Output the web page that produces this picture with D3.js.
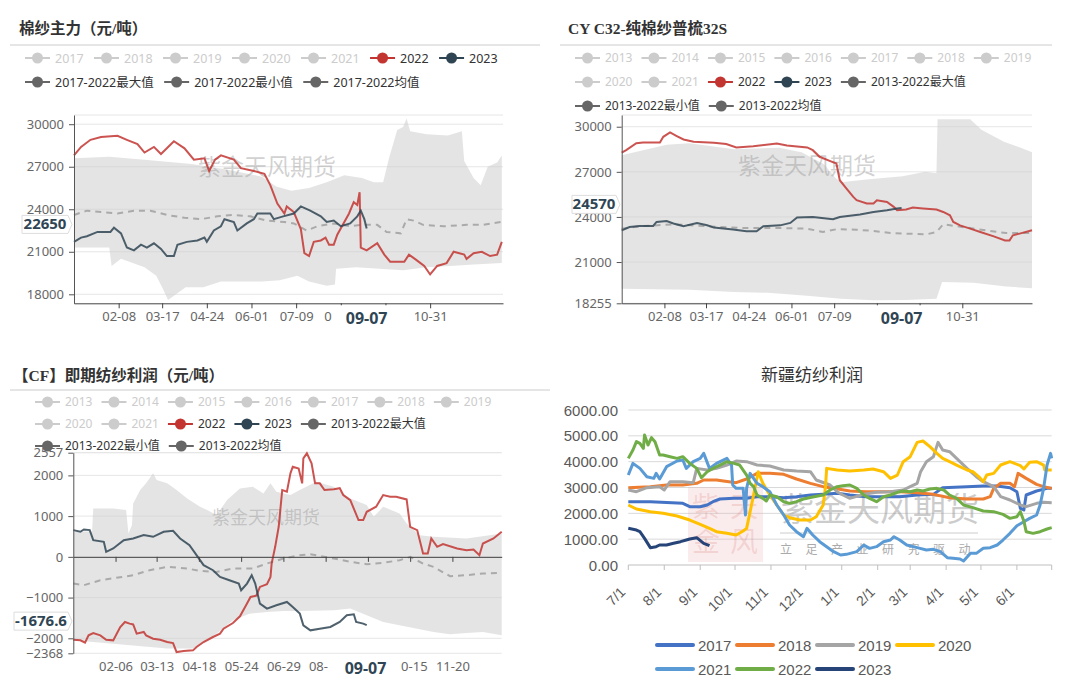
<!DOCTYPE html>
<html>
<head>
<meta charset="utf-8">
<script src="https://cdn.jsdelivr.net/npm/d3@7/dist/d3.min.js"></script>
<style>
  body { margin: 0; background: #fff; }
  svg { display: block; font-family: "Noto Sans", "Noto Sans CJK SC", sans-serif; }
</style>
</head>
<body>
<svg id="chart" width="1080" height="696"></svg>
<script>
// ---- data: [day of year, value] ----

// 棉纱主力
const yarn2022 = [[0,27800],[6,28400],[14,28900],[23,29100],[37,29180],[45,28900],[54,28600],[60,28000],[68,28400],[74,27900],[79,28300],[85,28800],[94,28300],[102,27500],[111,27600],[115,26700],[120,27500],[125,27800],[136,27500],[142,26900],[153,26700],[162,26500],[167,25700],[173,24400],[179,23700],[181,24200],[187,23800],[193,22600],[196,20900],[200,20700],[204,21700],[210,21800],[214,22000],[217,21500],[221,21500],[224,22200],[228,22800],[234,23700],[238,24500],[241,24300],[243,25200],[244,21300],[249,21100],[258,21600],[264,20800],[269,20300],[281,20300],[285,20800],[290,20500],[298,20000],[303,19400],[309,20000],[317,20200],[323,21000],[332,20800],[334,20500],[340,20900],[347,21000],[354,20700],[360,20800],[364,21700]];
const yarn2023 = [[0,21700],[6,22000],[11,22100],[20,22400],[31,22400],[34,22700],[40,22300],[45,21300],[51,21100],[57,21500],[62,21300],[68,21600],[74,21200],[79,20700],[85,20700],[88,21500],[96,21700],[105,21800],[111,22000],[113,21700],[119,22500],[125,22800],[128,23300],[136,23100],[139,22500],[147,23000],[153,23300],[156,23700],[167,23700],[170,23300],[178,23500],[187,23700],[193,24200],[201,23900],[210,23500],[215,23100],[221,23200],[227,22800],[235,23000],[241,23500],[244,23900],[247,23300],[249,22650]];
const yarnMean = [[0,23600],[11,23900],[23,23800],[37,23700],[51,23900],[65,23900],[79,23600],[94,23400],[108,23300],[122,23500],[136,23600],[150,23500],[164,23200],[179,23100],[187,23000],[198,22500],[207,22800],[221,23000],[235,22800],[244,22900],[258,22900],[266,22400],[278,22300],[283,23300],[289,23200],[297,22900],[315,22800],[334,22900],[348,22900],[363,23100]];
const yarnMax = [[0,27600],[30,27700],[60,27500],[100,27200],[130,26800],[160,26300],[172,25600],[185,25300],[200,25500],[215,25900],[230,26400],[245,26200],[255,25900],[263,25900],[268,27600],[275,29600],[280,29800],[283,30400],[286,29500],[300,29300],[318,29200],[330,29500],[332,27400],[340,26200],[346,25700],[352,27000],[360,27300],[364,27800]];
const yarnMin = [[0,21300],[30,21300],[32,20000],[40,20500],[60,19900],[70,19300],[75,18500],[80,17600],[85,17900],[95,18500],[110,18500],[125,18900],[140,18900],[160,18900],[175,19000],[190,19300],[200,18900],[215,18600],[222,18700],[223,19800],[240,19900],[260,19800],[280,19700],[300,19900],[320,20000],[340,20100],[364,20200]];

// CY C32
const cy2022 = [[0,28270],[4,28440],[13,28900],[19,28950],[34,28950],[37,29330],[43,29620],[49,29380],[55,29150],[64,29000],[82,28930],[93,28850],[102,28620],[117,28700],[138,28890],[147,28750],[165,28620],[170,28440],[176,28000],[185,27730],[191,27550],[194,26440],[200,25890],[206,25330],[209,25110],[218,24890],[224,24890],[227,25110],[236,25000],[242,24670],[245,24440],[253,24490],[259,24620],[268,24560],[280,24490],[286,24330],[292,24110],[295,23670],[301,23440],[310,23220],[319,23000],[331,22710],[341,22440],[345,22440],[348,22780],[354,22890],[365,23110]];
const cy2023 = [[0,23110],[7,23330],[16,23400],[28,23400],[31,23670],[40,23730],[46,23560],[55,23380],[67,23600],[76,23450],[82,23290],[99,23160],[111,23040],[120,23040],[126,23380],[141,23440],[150,23600],[156,23960],[170,24000],[188,23850],[194,24000],[212,24160],[224,24330],[236,24440],[245,24560],[249,24600]];
const cyMean = [[0,23220],[16,23380],[46,23510],[76,23380],[105,23270],[135,23270],[165,23220],[179,23000],[191,23180],[209,23150],[224,23070],[239,22930],[253,22890],[271,22840],[280,23000],[286,23510],[292,23440],[307,23290],[327,23070],[342,22930],[365,22930]];
const cyMax = [[0,28100],[40,28800],[60,28900],[100,28500],[140,28600],[160,28300],[180,27500],[190,26600],[195,26300],[220,26500],[250,26700],[270,27000],[280,26900],[281,30500],[310,30500],[320,29800],[340,29000],[355,28600],[365,28300]];
const cyMin = [[0,19220],[60,19150],[100,19000],[130,18950],[165,18750],[195,18560],[224,18450],[253,18480],[280,18560],[285,19670],[313,19620],[342,19380],[365,19250]];

// 【CF】即期纺纱利润
const cf2022 = [[0,-2034],[6,-2050],[10,-2107],[13,-1927],[17,-1870],[23,-1927],[28,-2034],[34,-2050],[37,-1886],[40,-1722],[44,-1600],[48,-1640],[51,-1660],[54,-1886],[60,-1845],[62,-1927],[68,-2009],[74,-2034],[80,-2091],[85,-2116],[88,-2337],[94,-2313],[102,-2296],[105,-2214],[111,-2091],[119,-1968],[125,-1886],[128,-1763],[136,-1624],[142,-1460],[148,-1148],[151,-984],[156,-951],[159,-738],[165,-672],[168,-492],[169,-164],[172,246],[175,738],[178,1640],[182,1599],[185,2050],[187,2214],[192,2170],[195,1804],[196,2419],[199,2542],[203,2296],[206,1804],[210,1804],[214,1640],[222,1660],[227,1685],[230,1517],[236,1394],[243,902],[247,902],[250,1107],[258,1230],[264,1517],[270,1476],[275,1476],[284,1410],[287,738],[293,656],[298,82],[302,82],[305,451],[310,246],[315,312],[327,205],[335,164],[341,180],[346,41],[349,328],[358,451],[365,615]];
const cf2023 = [[0,656],[6,615],[9,672],[14,656],[17,410],[26,369],[28,123],[34,205],[43,410],[51,451],[60,533],[68,492],[77,615],[85,640],[91,451],[99,287],[105,41],[111,-205],[119,-328],[125,-492],[133,-574],[141,-656],[143,-820],[148,-656],[152,-451],[155,-656],[159,-1148],[165,-1271],[173,-1189],[182,-1107],[187,-1230],[193,-1394],[196,-1681],[202,-1804],[210,-1763],[219,-1722],[227,-1599],[233,-1435],[239,-1410],[241,-1599],[247,-1640],[250,-1677]];
const cfMean = [[0,-656],[9,-697],[23,-574],[51,-451],[65,-328],[80,-246],[97,-287],[108,-344],[122,-369],[136,-287],[153,-287],[165,-164],[179,-41],[193,41],[202,66],[222,-41],[236,-123],[250,-180],[264,-148],[278,-82],[287,0],[298,-164],[307,-246],[321,-476],[335,-451],[349,-410],[365,-394]];
const cfMax = [[0,620],[16,620],[17,1189],[34,1189],[45,1148],[47,574],[50,780],[51,1312],[57,1640],[62,1804],[68,2050],[71,1886],[80,1804],[88,1640],[97,1435],[108,1230],[114,1148],[122,1025],[131,1394],[142,1681],[153,1722],[162,1558],[168,1804],[173,1599],[185,1517],[193,1640],[207,1845],[222,1722],[236,1435],[250,1271],[256,984],[264,1230],[278,1066],[284,820],[295,533],[307,492],[335,451],[365,574]];
const cfMin = [[0,-2050],[80,-2250],[102,-2250],[122,-1886],[136,-1558],[150,-1394],[165,-1353],[179,-1330],[193,-1330],[222,-1312],[236,-1271],[250,-1435],[264,-1599],[278,-1680],[293,-1763],[307,-1845],[321,-1902],[335,-1870],[349,-1845],[365,-1927]];

// 新疆纺纱利润: [days since 7/1, value]
const xj2017 = [[0,2451],[19,2451],[47,2387],[53,2258],[62,2258],[68,2322],[73,2451],[79,2554],[91,2580],[102,2580],[111,2645],[122,2645],[134,2606],[145,2645],[157,2709],[168,2735],[180,2774],[191,2709],[205,2645],[220,2645],[234,2645],[249,2709],[263,2735],[271,2993],[292,3032],[306,3057],[318,3057],[329,2993],[335,2838],[338,2193],[341,2129],[343,2709],[352,2864],[361,2967],[365,2967]];
const xj2018 = [[0,2993],[19,3032],[33,3096],[47,3096],[59,3161],[65,3290],[76,3290],[82,3250],[93,3186],[102,3328],[111,3547],[122,3547],[134,3509],[145,3328],[157,3161],[168,3032],[177,2967],[191,2864],[205,2838],[220,2838],[234,2838],[249,2799],[263,2735],[277,2606],[292,2554],[306,2554],[312,2645],[315,2967],[321,3161],[329,3161],[333,3032],[336,3547],[343,3354],[352,3122],[358,3032],[365,2967]];
const xj2019 = [[0,2903],[7,2838],[16,2993],[27,3032],[31,2903],[36,3225],[47,3225],[56,3186],[59,3741],[68,3677],[76,3741],[85,3870],[93,4025],[102,4000],[111,3870],[122,3832],[134,3677],[145,3638],[157,3612],[162,3290],[174,3096],[180,2838],[185,2709],[191,2580],[203,2735],[214,2812],[226,2838],[237,2903],[243,3032],[249,3161],[252,3612],[257,4000],[263,4193],[267,4748],[271,4451],[277,4386],[283,4128],[292,3741],[300,3419],[306,3225],[315,3032],[321,2645],[329,2516],[338,2322],[343,2258],[352,2387],[358,2425],[365,2412]];
const xj2020 = [[0,2322],[7,2167],[19,2064],[30,2000],[42,1896],[53,1741],[62,1574],[70,1419],[76,1290],[85,1225],[93,1161],[99,1316],[102,1419],[105,2064],[108,2709],[112,3612],[116,3161],[122,2709],[128,2322],[134,1935],[139,1832],[148,1741],[157,1741],[162,1870],[168,2322],[170,3032],[171,3741],[180,3677],[191,3638],[203,3677],[211,3715],[220,3612],[226,3354],[232,3483],[237,4000],[243,4193],[249,4748],[254,4800],[260,4580],[266,4322],[271,4128],[277,4000],[283,3870],[292,3677],[297,3612],[303,3380],[306,3225],[309,3483],[315,3547],[321,3870],[329,4000],[338,3845],[341,3715],[346,3974],[352,4000],[358,3870],[359,3677],[365,3677]];
const xj2021 = [[0,3483],[4,3935],[10,3741],[16,3419],[22,3354],[24,3547],[27,3328],[33,3806],[42,4025],[47,4064],[50,3741],[56,4000],[62,4128],[65,4322],[70,3741],[76,3935],[85,4128],[89,3870],[90,3096],[93,2967],[99,2967],[101,1935],[102,2967],[105,3547],[111,3161],[116,3032],[122,2838],[128,2322],[134,1935],[139,1548],[145,1290],[151,1096],[154,1419],[159,1161],[165,903],[171,710],[177,516],[183,387],[188,413],[197,516],[203,774],[208,645],[214,710],[220,903],[226,967],[229,1096],[234,967],[240,774],[249,671],[257,580],[263,606],[269,516],[275,284],[280,258],[286,232],[289,155],[295,451],[300,451],[306,645],[312,671],[318,774],[323,967],[329,1225],[335,1522],[341,1677],[346,1806],[352,1935],[355,2322],[358,2967],[361,3870],[364,4322],[365,4128]];
const xj2022 = [[0,4128],[4,4451],[7,4774],[10,4709],[13,4516],[14,5032],[17,4645],[20,4929],[23,4774],[27,4258],[30,4258],[36,4193],[42,4128],[47,4193],[53,3935],[59,3741],[63,3380],[68,3612],[73,3741],[79,3870],[85,4000],[91,3935],[96,3870],[102,3483],[105,3161],[108,3032],[111,2709],[116,2580],[119,2477],[122,2709],[128,2645],[134,2451],[139,2387],[145,2451],[151,2554],[160,2645],[168,2709],[174,2903],[180,3032],[185,3070],[191,3096],[197,2967],[203,2709],[208,2580],[214,2451],[220,2645],[226,2709],[232,2812],[237,2864],[243,2838],[249,2903],[254,2864],[260,2941],[266,2967],[272,2903],[277,2709],[283,2580],[289,2322],[297,2219],[306,2090],[315,2064],[323,1961],[329,1806],[335,1870],[338,2064],[341,1703],[343,1290],[349,1225],[355,1290],[361,1393],[365,1445]];
const xj2023 = [[0,1419],[7,1354],[10,1290],[14,1032],[19,671],[24,710],[27,774],[33,774],[39,839],[45,903],[50,967],[53,1006],[59,1058],[65,839],[70,748]];

// ---- labels ----
const yarnYTicks = [18000, 21000, 24000, 27000, 30000];
const cyYTicks = [18255, 21000, 24000, 27000, 30000];
const cfYTicks = [-2368, -2000, -1000, 0, 1000, 2000, 2557];
const topXDays = [38, 75, 113, 151, 189, 227, 265, 303];
const topXLabels = ["02-08", "03-17", "04-24", "06-01", "07-09", "08-16", "09-23", "10-31"];
const cfXDays = [36, 71, 107, 143, 179, 215, 251, 287, 323];
const cfXLabels = ["02-06", "03-13", "04-18", "05-24", "06-29", "08-04", "09-09", "10-15", "11-20"];
const monthDays = [0, 31, 62, 92, 123, 153, 184, 215, 243, 274, 304, 335];
const monthLabels = ["7/1", "8/1", "9/1", "10/1", "11/1", "12/1", "1/1", "2/1", "3/1", "4/1", "5/1", "6/1"];
const xjYTicks = [0, 1000, 2000, 3000, 4000, 5000, 6000];
const yearsA = ["2017", "2018", "2019", "2020", "2021"];
const yearsB = ["2013", "2014", "2015", "2016", "2017", "2018", "2019", "2020", "2021"];
const xjYears = ["2017", "2018", "2019", "2020", "2021", "2022", "2023"];

const RED = "#c23531", NAVY = "#2f4554", DARK = "#666";
const xjColors = ["#4472c4", "#ed7d31", "#a5a5a5", "#ffc000", "#5b9bd5", "#70ad47", "#264478"];
const CJK = '"Noto Sans", "Noto Sans CJK SC", sans-serif';
const TITLE = '"Liberation Serif", "Noto Sans CJK SC", serif';

const svg = d3.select("#chart");

function title(x, y, txt, x2, sepY, sepX1) {
  svg.append("text").attr("x", x).attr("y", y).text(txt)
    .attr("font-family", TITLE).attr("font-weight", "bold")
    .attr("font-size", 15.5).attr("fill", "#333");
  svg.append("line").attr("x1", sepX1).attr("x2", x2)
    .attr("y1", sepY).attr("y2", sepY).attr("stroke", "#ccc");
}

// echarts style legend, wraps rows
function legend(items, x0, y0, maxX, fs, gap, rowH) {
  let x = x0, y = y0;
  const g = svg.append("g");
  items.forEach(it => {
    const t = g.append("text").attr("font-size", fs).text(it.name)
      .attr("fill", it.color ? "#333" : "#ccc");
    const w = t.node().getComputedTextLength();
    if (x + 30 + w > maxX && x > x0) { x = x0; y += rowH; }
    const c = it.color || "#ccc";
    g.append("line").attr("x1", x).attr("x2", x + 25).attr("y1", y).attr("y2", y)
      .attr("stroke", c).attr("stroke-width", 2);
    g.append("circle").attr("cx", x + 12.5).attr("cy", y).attr("r", 5.5).attr("fill", c);
    t.attr("x", x + 30).attr("y", y + fs * 0.36);
    x += 30 + w + gap;
  });
}

// date label of the axis pointer, it hides the tick labels under it
function pointerX(g, px, axisY, txt, labels) {
  const l = px - 34.5, r = px + 34.5;
  labels.each(function () {
    const b = this.getBoundingClientRect();
    if (b.right <= l || b.left >= r) return;
    const t = d3.select(this), s = t.text();
    if (b.left < l) {
      let n = 0;
      while (n < s.length && this.getSubStringLength(0, n + 1) <= l - b.left) n++;
      const x0 = +t.attr("x") || 0;
      t.attr("text-anchor", "start").attr("x", x0 - b.width / 2).text(s.slice(0, n));
    } else if (b.right - r < 4) {
      t.remove();
    }
  });
  g.append("rect").attr("x", l).attr("y", axisY + 2).attr("width", 69).attr("height", 26)
    .attr("fill", "#fff");
  g.append("text").attr("x", px).attr("y", axisY + 21).attr("text-anchor", "middle")
    .attr("font-size", 16).attr("font-weight", "bold").attr("fill", NAVY).text(txt);
}

function pointerY(g, x1, x2, cy, txt) {
  const h = 18;
  g.append("path")
    .attr("d", `M${x1},${cy - h / 2}H${x2}L${x2 + 4},${cy}L${x2},${cy + h / 2}H${x1}Z`)
    .attr("fill", "#fff").attr("stroke", "#ddd");
  g.append("text").attr("x", (x1 + x2) / 2).attr("y", cy + 5).attr("text-anchor", "middle")
    .attr("font-size", 15).attr("font-weight", "bold").attr("fill", NAVY).text(txt);
}

function panel(c) {
  const g = svg.append("g");
  const x = d3.scaleLinear().domain([0, 365]).range([c.left, c.right]);
  const y = d3.scaleLinear().domain(c.domain).range([c.bottom, c.top]);
  const line = d3.line().x(d => x(d[0])).y(d => y(d[1]));

  g.selectAll("line.grid").data(c.yTicks.concat([c.domain[1]])).join("line")
    .attr("x1", c.left).attr("x2", c.right)
    .attr("y1", d => y(d)).attr("y2", d => y(d))
    .attr("stroke", "#e6e6e6");

  g.append("path").attr("d", line(c.max.concat(c.min.slice().reverse())) + "Z")
    .attr("fill", "#cdcdcd").attr("fill-opacity", 0.55);

  g.append("text").attr("x", c.wm[0]).attr("y", c.wm[1]).attr("text-anchor", "middle")
    .attr("font-size", c.wm[2]).attr("fill", "#999").attr("fill-opacity", 0.45)
    .text("紫金天风期货");

  g.append("path").attr("d", line(c.mean)).attr("fill", "none")
    .attr("stroke", "#aaa").attr("stroke-width", 2).attr("stroke-dasharray", "6,5");
  g.append("path").attr("d", line(c.s22)).attr("fill", "none")
    .attr("stroke", RED).attr("stroke-width", 2).attr("stroke-opacity", 0.85);
  g.append("path").attr("d", line(c.s23)).attr("fill", "none")
    .attr("stroke", NAVY).attr("stroke-width", 2).attr("stroke-opacity", 0.85);

  const ya = g.append("g").attr("transform", `translate(${c.left},0)`)
    .call(d3.axisLeft(y).tickValues(c.yTicks).tickSize(5).tickSizeOuter(0).tickPadding(5)
      .tickFormat(d3.format("d")));
  ya.select(".domain").attr("stroke", "#555");
  ya.selectAll(".tick line").attr("stroke", "#555");
  ya.selectAll(".tick text").attr("font-size", 13).attr("fill", "#666").attr("font-family", CJK);

  const axisY = c.zeroAxis ? y(0) : c.bottom;
  const xa = g.append("g").attr("transform", `translate(0,${axisY})`)
    .call(d3.axisBottom(x).tickValues(c.xDays).tickSize(5).tickSizeOuter(0)
      .tickFormat(c.zeroAxis ? "" : (d, i) => c.xLabels[i]).tickPadding(3));
  xa.select(".domain").attr("stroke", "#444");
  xa.selectAll(".tick line").attr("stroke", "#444");
  let labels;
  if (c.zeroAxis) {
    const xl = g.append("g").attr("transform", `translate(0,${c.bottom})`)
      .call(d3.axisBottom(x).tickValues(c.xDays).tickSize(0).tickPadding(8)
        .tickFormat((d, i) => c.xLabels[i]));
    xl.select(".domain").remove();
    labels = xl.selectAll(".tick text");
  } else {
    labels = xa.selectAll(".tick text");
  }
  labels.attr("font-size", 13).attr("fill", "#666").attr("font-family", CJK);

  pointerX(g, x(c.ptrDay), c.bottom, c.ptrDate, labels);
  pointerY(g, c.ptrBox[0], c.ptrBox[1], y(c.ptrValue) - 4, c.ptrText);
}

// ---- top left ----
title(19, 34, "棉纱主力（元/吨）", 540, 45, 10);
panel({
  left: 74, right: 503, top: 115, bottom: 303.3, domain: [17365, 30650],
  yTicks: yarnYTicks, xDays: topXDays, xLabels: topXLabels,
  max: yarnMax, min: yarnMin, mean: yarnMean, s22: yarn2022, s23: yarn2023,
  wm: [267, 175, 23], ptrDay: 249, ptrDate: "09-07",
  ptrValue: 22650, ptrText: "22650", ptrBox: [22, 68]
});
legend(yearsA.map(n => ({ name: n })).concat([
  { name: "2022", color: RED }, { name: "2023", color: NAVY },
  { name: "2017-2022最大值", color: DARK }, { name: "2017-2022最小值", color: DARK },
  { name: "2017-2022均值", color: DARK }]), 25, 58, 522, 12.5, 10.4, 24);

// ---- top right ----
title(568, 34, "CY C32-纯棉纱普梳32S", 1052, 45, 560);
panel({
  left: 621.7, right: 1032, top: 115, bottom: 303.3, domain: [18255, 30780],
  yTicks: cyYTicks, xDays: topXDays, xLabels: topXLabels,
  max: cyMax, min: cyMin, mean: cyMean, s22: cy2022, s23: cy2023,
  wm: [807, 174, 23], ptrDay: 249, ptrDate: "09-07",
  ptrValue: 24570, ptrText: "24570", ptrBox: [572, 616]
});
legend(yearsB.map(n => ({ name: n })).concat([
  { name: "2022", color: RED }, { name: "2023", color: NAVY },
  { name: "2013-2022最大值", color: DARK }, { name: "2013-2022最小值", color: DARK },
  { name: "2013-2022均值", color: DARK }]), 575, 58, 1068, 12, 9, 24);

// ---- bottom left ----
title(13, 381, "【CF】即期纺纱利润（元/吨）", 550, 390, 10);
panel({
  left: 73.3, right: 501.7, top: 452.7, bottom: 653.3, domain: [-2368, 2557],
  yTicks: cfYTicks, xDays: cfXDays, xLabels: cfXLabels, zeroAxis: true,
  max: cfMax, min: cfMin, mean: cfMean, s22: cf2022, s23: cf2023,
  wm: [266, 524, 18], ptrDay: 249, ptrDate: "09-07",
  ptrValue: -1676.6, ptrText: "-1676.6", ptrBox: [14, 68]
});
legend(yearsB.map(n => ({ name: n })).concat([
  { name: "2022", color: RED }, { name: "2023", color: NAVY },
  { name: "2013-2022最大值", color: DARK }, { name: "2013-2022最小值", color: DARK },
  { name: "2013-2022均值", color: DARK }]), 35, 402, 528, 12, 9, 22);

// ---- bottom right (excel style) ----
(function () {
  const g = svg.append("g").attr("font-family", '"Liberation Sans", "Noto Sans CJK SC", sans-serif');
  const x = d3.scaleLinear().domain([0, 365]).range([628.3, 1051.7]);
  const y = d3.scaleLinear().domain([0, 6000]).range([565, 410]);

  g.append("text").attr("x", 812).attr("y", 381).attr("text-anchor", "middle")
    .attr("font-family", CJK).attr("font-size", 17).attr("fill", "#333").text("新疆纺纱利润");

  g.selectAll("line.grid").data(xjYTicks.slice(1)).join("line")
    .attr("x1", x(0)).attr("x2", x(365)).attr("y1", d => y(d)).attr("y2", d => y(d))
    .attr("stroke", "#d9d9d9");

  g.selectAll("text.ylab").data(xjYTicks).join("text")
    .attr("x", 618).attr("y", d => y(d) + 5.5).attr("text-anchor", "end")
    .attr("font-size", 15).attr("fill", "#595959").text(d3.format(".2f"));

  // watermark + seal
  g.append("rect").attr("x", 688).attr("y", 487).attr("width", 75).attr("height", 75)
    .attr("fill", "#e8a8a8").attr("fill-opacity", 0.22);
  [["紫", 706, 517], ["天", 744, 517], ["金", 706, 552], ["风", 744, 552]].forEach(s => {
    g.append("text").attr("x", s[1]).attr("y", s[2]).attr("text-anchor", "middle")
      .attr("font-family", CJK).attr("font-size", 28).attr("fill", "#d77").attr("fill-opacity", 0.22)
      .text(s[0]);
  });
  g.append("text").attr("x", 880).attr("y", 521).attr("text-anchor", "middle")
    .attr("font-family", CJK).attr("font-size", 33).attr("fill", "#999").attr("fill-opacity", 0.5)
    .text("紫金天风期货");
  g.append("line").attr("x1", 780).attr("x2", 978).attr("y1", 533).attr("y2", 533)
    .attr("stroke", "#ccc");
  g.append("text").attr("x", 780).attr("y", 554).attr("font-family", CJK).attr("font-size", 12)
    .attr("letter-spacing", 13.5).attr("fill", "#aaa").text("立足产业研究驱动");

  const line = d3.line().x(d => x(d[0])).y(d => y(d[1]));
  [xj2017, xj2018, xj2019, xj2020, xj2021, xj2022, xj2023].forEach((s, i) => {
    g.append("path").attr("d", line(s)).attr("fill", "none")
      .attr("stroke", xjColors[i]).attr("stroke-width", 3).attr("stroke-linejoin", "round");
  });

  g.append("line").attr("x1", x(0)).attr("x2", x(365)).attr("y1", y(0)).attr("y2", y(0))
    .attr("stroke", "#bfbfbf");
  g.selectAll("line.tk").data(monthDays.concat([365])).join("line")
    .attr("x1", d => x(d)).attr("x2", d => x(d)).attr("y1", y(0)).attr("y2", y(0) + 5)
    .attr("stroke", "#bfbfbf");
  g.selectAll("text.xlab").data(monthDays).join("text")
    .attr("transform", d => `translate(${x(d) - 2},593) rotate(-45)`)
    .attr("text-anchor", "end").attr("font-size", 14).attr("fill", "#595959")
    .text((d, i) => monthLabels[i]);

  xjYears.forEach((n, i) => {
    const lx = 657 + (i % 4) * 80, ly = 645 + Math.floor(i / 4) * 24;
    g.append("line").attr("x1", lx).attr("x2", lx + 36).attr("y1", ly).attr("y2", ly)
      .attr("stroke", xjColors[i]).attr("stroke-width", 4).attr("stroke-linecap", "round");
    g.append("text").attr("x", lx + 41).attr("y", ly + 5.5).attr("font-size", 15)
      .attr("fill", "#595959").text(n);
  });
})();
</script>
</body>
</html>
